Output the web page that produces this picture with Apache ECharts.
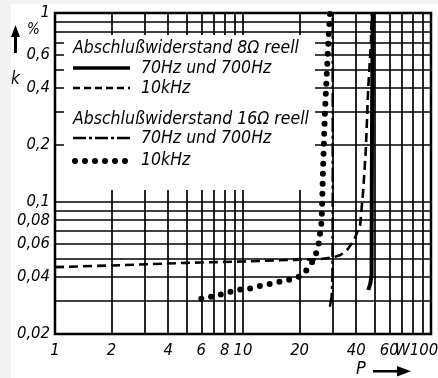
<!DOCTYPE html>
<html><head><meta charset="utf-8">
<script src="https://cdn.jsdelivr.net/npm/echarts@6/dist/echarts.min.js"></script>
<style>
html,body{margin:0;padding:0;background:#f3f3f3;width:438px;height:378px;overflow:hidden;}
#c{position:absolute;left:11px;top:4px;width:427px;height:374px;background:#fff;}
</style>
</head><body><div id="c"></div>
<script>
// ---- tick labels ----
const xTicks = [1, 2, 4, 6, 8, 10, 20, 40, 60, 100];
const xTickLabels = ['1', '2', '4', '6', '8', '10', '20', '40', '60', '100'];
const yTicks = [0.02, 0.04, 0.06, 0.08, 0.1, 0.2, 0.4, 0.6, 1];
const yTickLabels = ['0,02', '0,04', '0,06', '0,08', '0,1', '0,2', '0,4', '0,6', '1'];
// ---- grid lines ----
const xGrid = [2, 3, 4, 5, 6, 7, 8, 9, 10, 20, 30, 40, 50, 60, 70, 80, 90];
const yGrid = [0.03, 0.04, 0.05, 0.06, 0.07, 0.08, 0.09, 0.1, 0.2, 0.3, 0.4, 0.5, 0.6, 0.7, 0.8, 0.9];
// ---- series: 8 Ohm, 70 Hz und 700 Hz (solid) ----
const p8low = [46.4, 47.6, 48.3, 48.4, 48.6, 49.0];
const k8low = [0.0342, 0.0371, 0.0410, 0.100, 0.300, 1.0];
// ---- 8 Ohm, 10 kHz (dashed) ----
const p8high = [1, 2, 5, 10, 20, 25, 30, 33, 36, 39, 42, 43.6, 45, 46.3, 47.9, 48.5];
const k8high = [0.0452, 0.0461, 0.0476, 0.0484, 0.0495, 0.0497, 0.0508, 0.0524, 0.0561, 0.0629, 0.0755, 0.1156, 0.188, 0.391, 0.693, 1.0];
// ---- 16 Ohm, 70 Hz und 700 Hz (dash-dot) ----
const p16low = [29.0, 29.6, 29.9, 30.0, 30.0];
const k16low = [0.0279, 0.0315, 0.0402, 0.100, 1.0];
// ---- 16 Ohm, 10 kHz (dotted) ----
const p16high = [6.0, 6.8, 7.7, 8.7, 9.85, 11.0, 12.5, 13.9, 15.7, 17.8, 19.9, 21.4, 22.7, 24.2, 25.2, 25.9, 26.2, 26.7, 27.3, 28.3, 29.0];
const k16high = [0.0307, 0.0315, 0.0325, 0.0336, 0.0345, 0.0349, 0.0360, 0.0368, 0.0378, 0.0389, 0.0402, 0.0427, 0.0458, 0.0513, 0.0592, 0.0725, 0.0786, 0.157, 0.306, 0.637, 1.0];

const legendTitles = ['Abschlußwiderstand 8Ω reell', 'Abschlußwiderstand 16Ω reell'];
const legendItems = ['70Hz und 700Hz', '10kHz', '70Hz und 700Hz', '10kHz'];

const FONT = '"DejaVu Sans Condensed", "Liberation Sans Narrow", sans-serif';
const LFONT = 'italic 17.5px ' + FONT;
const zip = (a, b) => a.map((v, i) => [v, b[i]]);
const findLabel = (ticks, labels, v) => {
  for (let i = 0; i < ticks.length; i++) if (Math.abs(Math.log(v / ticks[i])) < 1e-6) return labels[i];
  return '';
};
const txt = {fontFamily: FONT, fontStyle: 'italic', fontSize: 16.5, color: '#000'};

const chart = echarts.init(document.getElementById('c'), null, {renderer: 'canvas'});
const gridStyle = {color: '#000', width: 1.7, type: 'solid'};

const option = {
  animation: false,
  grid: {left: 44, right: 7, top: 9, bottom: 44, containLabel: false, outerBoundsMode: 'none',
         show: true, borderColor: '#000', borderWidth: 2.5, backgroundColor: 'transparent'},
  xAxis: {
    type: 'log', logBase: 10, min: 1, max: 100,
    axisLine: {show: false}, axisTick: {show: false}, splitLine: {show: false},
    axisLabel: Object.assign({
      customValues: xTicks, margin: 8,
      formatter: v => { const s = findLabel(xTicks, xTickLabels, v); return v > 99 ? '{r|' + s + '}' : s; },
      rich: {r: Object.assign({padding: [0, 14, 0, 0]}, txt)}
    }, txt)
  },
  yAxis: {
    type: 'log', logBase: 10, min: 0.02, max: 1,
    axisLine: {show: false}, axisTick: {show: false}, splitLine: {show: false},
    axisLabel: Object.assign({
      customValues: yTicks, margin: 5,
      formatter: v => findLabel(yTicks, yTickLabels, v)
    }, txt)
  },
  series: [
    {
      type: 'line', z: 1, data: [], silent: true,
      markLine: {
        silent: true, symbol: ['none', 'none'], label: {show: false}, animation: false,
        lineStyle: gridStyle, emphasis: {disabled: true},
        data: xGrid.map(v => ({xAxis: v})).concat(yGrid.map(v => ({yAxis: v})))
      }
    },
    {type: 'line', z: 5, silent: true, symbol: 'none', data: zip(p8low, k8low),
     lineStyle: {color: '#000', width: 4, type: 'solid'}},
    {type: 'line', z: 5, silent: true, symbol: 'none', data: zip(p8high, k8high),
     lineStyle: {color: '#000', width: 2.6, type: [9, 5]}},
    {type: 'line', z: 5, silent: true, symbol: 'none', data: zip(p16low, k16low),
     lineStyle: {color: '#000', width: 2.5, type: [14, 4, 3, 4]}},
    {type: 'line', z: 5, silent: true, symbol: 'none', data: zip(p16high, k16high),
     lineStyle: {color: '#000', width: 6, type: [0, 10], cap: 'round'}}
  ],
  graphic: [
    // legend panel
    {type: 'rect', z: 10, shape: {x: 53, y: 31, width: 251, height: 155}, style: {fill: '#fff'}},
    {type: 'text', z: 11, left: 62, top: 35, style: {text: legendTitles[0], font: LFONT, fill: '#000'}},
    {type: 'line', z: 11, shape: {x1: 62, y1: 64, x2: 119, y2: 64}, style: {stroke: '#000', lineWidth: 3.5}},
    {type: 'text', z: 11, left: 130, top: 55, style: {text: legendItems[0], font: LFONT, fill: '#000'}},
    {type: 'line', z: 11, shape: {x1: 62, y1: 84, x2: 119, y2: 84}, style: {stroke: '#000', lineWidth: 2.5, lineDash: [7, 4]}},
    {type: 'text', z: 11, left: 130, top: 75, style: {text: legendItems[1], font: LFONT, fill: '#000'}},
    {type: 'text', z: 11, left: 62, top: 106, style: {text: legendTitles[1], font: LFONT, fill: '#000'}},
    {type: 'line', z: 11, shape: {x1: 62, y1: 134, x2: 119, y2: 134}, style: {stroke: '#000', lineWidth: 2.5, lineDash: [13, 3, 3, 3]}},
    {type: 'text', z: 11, left: 130, top: 125, style: {text: legendItems[2], font: LFONT, fill: '#000'}},
    {type: 'line', z: 11, shape: {x1: 64, y1: 157, x2: 119, y2: 157}, style: {stroke: '#000', lineWidth: 6, lineDash: [0, 10], lineCap: 'round'}},
    {type: 'text', z: 11, left: 130, top: 147, style: {text: legendItems[3], font: LFONT, fill: '#000'}},
    // y-axis name with arrow
    {type: 'text', z: 11, left: 16, top: 19, style: {text: '%', font: 'italic 15px ' + FONT, fill: '#000'}},
    {type: 'text', z: 11, left: 0, top: 67, style: {text: 'k', font: 'italic 17px ' + FONT, fill: '#000'}},
    {type: 'rect', z: 11, shape: {x: 3, y: 30, width: 3, height: 19}, style: {fill: '#000'}},
    {type: 'polygon', z: 11, shape: {points: [[4.5, 21], [0, 33], [9, 33]]}, style: {fill: '#000'}},
    // x-axis unit and name
    {type: 'text', z: 11, left: 384, top: 338, style: {text: 'W', font: 'italic 16.5px ' + FONT, fill: '#000'}},
    {type: 'text', z: 11, left: 345, top: 356, style: {text: 'P', font: 'italic 18px ' + FONT, fill: '#000'}},
    {type: 'rect', z: 11, shape: {x: 362, y: 366, width: 26, height: 2.5}, style: {fill: '#000'}},
    {type: 'polygon', z: 11, shape: {points: [[400, 367.2], [386, 362], [386, 372.5]]}, style: {fill: '#000'}}
  ]
};
chart.setOption(option);
</script>
</body></html>
